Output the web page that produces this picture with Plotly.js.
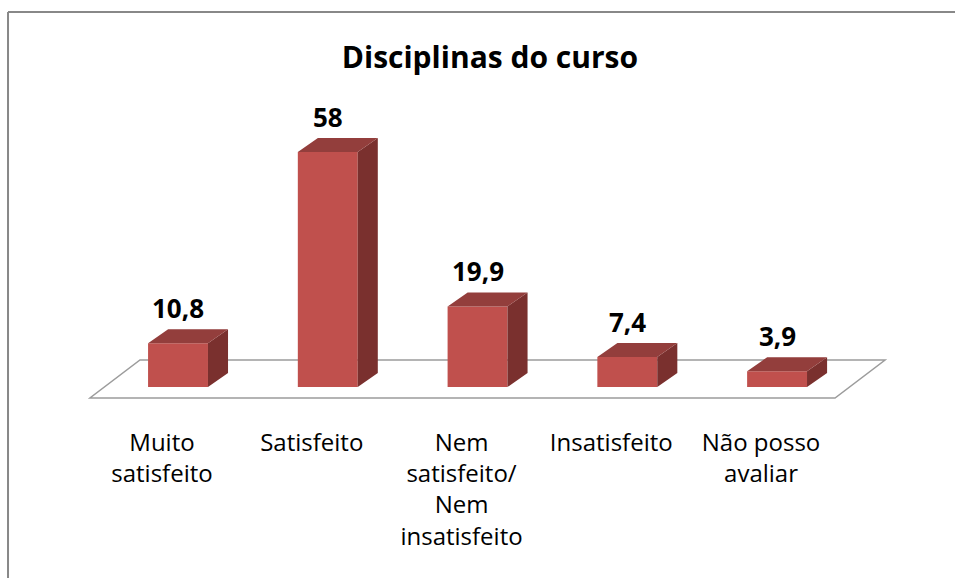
<!DOCTYPE html>
<html><head><meta charset="utf-8">
<script src="https://cdn.plot.ly/plotly-3.0.1.min.js"></script>
<style>html,body{margin:0;padding:0;background:#fff}#chart{width:955px;height:578px}</style>
</head><body><div id="chart"></div>
<script>
// ---- data ----
const categories = ["Muito<br>satisfeito", "Satisfeito", "Nem<br>satisfeito/<br>Nem<br>insatisfeito", "Insatisfeito", "Não posso<br>avaliar"];
const values = [10.8, 58, 19.9, 7.4, 3.9];
const valueLabels = ["10,8", "58", "19,9", "7,4", "3,9"];
const chartTitle = "Disciplinas do curso";

// ---- 3D look parameters (in axis units) ----
const barW = 0.40;      // bar width
const depthX = 0.134;   // bar depth, horizontal shift
const depthY = 3.46;    // bar depth, vertical shift
const labelOffset = -0.107; // category label shift toward the floor front edge
const floorFront = -2.72, floorBack = 6.67, floorLeft = -0.588, floorRight = 4.387, floorShift = 0.334;

const xs = values.map((v, i) => i);

// top and side faces computed from values
const topX = [], topY = [], sideX = [], sideY = [];
xs.forEach((x, i) => {
  const v = values[i], l = x - barW / 2, r = x + barW / 2;
  topX.push(l, r, r + depthX, l + depthX, l, null);
  topY.push(v, v, v + depthY, v + depthY, v, null);
  sideX.push(r, r + depthX, r + depthX, r, r, null);
  sideY.push(0, depthY, v + depthY, v, 0, null);
});

const traces = [
  { type: 'bar', x: xs, y: values, width: barW, marker: { color: '#C0504D', line: { width: 0 } }, hoverinfo: 'skip' },
  { type: 'scatter', mode: 'lines', x: sideX, y: sideY, fill: 'toself', fillcolor: '#7A302E', line: { width: 0, color: '#7A302E' }, hoverinfo: 'skip' },
  { type: 'scatter', mode: 'lines', x: topX, y: topY, fill: 'toself', fillcolor: '#933E3C', line: { width: 0, color: '#933E3C' }, hoverinfo: 'skip' }
];

const annotations = xs.map((x, i) => ({
  x: x, y: values[i] + depthY, xref: 'x', yref: 'y', text: valueLabels[i], showarrow: false,
  yanchor: 'bottom', xanchor: 'center', yshift: 1,
  font: { family: 'Open Sans', size: 26, color: '#000', weight: 'bold' }
}));

const layout = {
  width: 955, height: 578,
  margin: { l: 60, r: 40, t: 100, b: 152 },
  paper_bgcolor: '#fff', plot_bgcolor: 'rgba(0,0,0,0)',
  showlegend: false,
  title: { text: '<b>' + chartTitle + '</b>', xref: 'container', yref: 'container', x: 0.513, y: 0.901, xanchor: 'center', yanchor: 'middle',
    font: { family: 'Open Sans', size: 30, color: '#000' } },
  xaxis: { range: [-0.788, 4.921], tickmode: 'array', tickvals: xs.map(x => x + labelOffset), ticktext: categories,
    tickfont: { family: 'Open Sans', size: 24, color: '#000' }, ticklen: 0, showgrid: false, zeroline: false, showline: false, automargin: false, fixedrange: true },
  yaxis: { range: [-9.63, 70.86], showticklabels: false, showgrid: false, zeroline: false, showline: false, ticks: '', automargin: false, fixedrange: true },
  annotations: annotations,
  shapes: [
    { type: 'path', layer: 'below', xref: 'x', yref: 'y',
      path: `M ${floorLeft} ${floorFront} L ${floorRight} ${floorFront} L ${floorRight + floorShift} ${floorBack} L ${floorLeft + floorShift} ${floorBack} Z`,
      fillcolor: '#fff', line: { color: '#9C9C9C', width: 1.5 } },
    { type: 'line', xref: 'paper', yref: 'paper', x0: -0.0608, x1: -0.0608, y0: -0.5, y1: 1.27, line: { color: '#888', width: 2 } },
    { type: 'line', xref: 'paper', yref: 'paper', x0: -0.0608, x1: 1.06, y0: 1.27, y1: 1.27, line: { color: '#888', width: 2 } }
  ]
};

Plotly.newPlot('chart', traces, layout, { displayModeBar: false, staticPlot: true });
</script></body></html>
